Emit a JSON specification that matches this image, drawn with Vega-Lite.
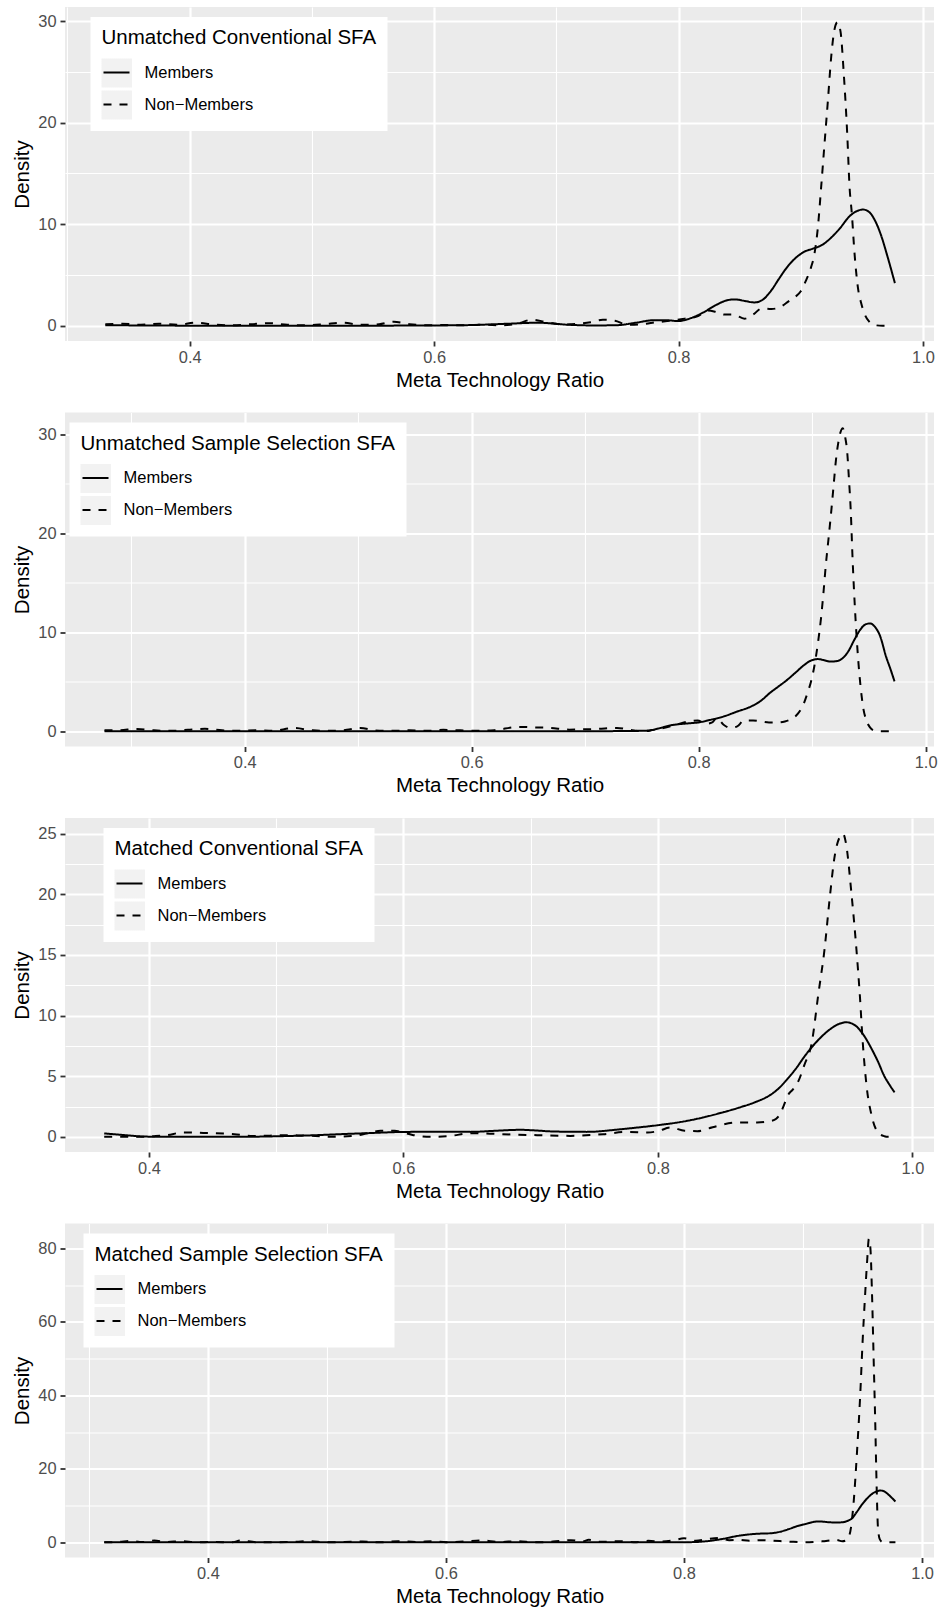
{
  "$schema": "https://vega.github.io/schema/vega-lite/v6.json",
  "background": "white",
  "padding": {"left": 12, "top": 7, "right": 6, "bottom": 5},
  "spacing": 21.5,
  "resolve": {"scale": {"strokeDash": "independent"}, "legend": {"strokeDash": "independent"}},
  "config": {
    "font": "Liberation Sans",
    "view": {"fill": "#EBEBEB", "stroke": null},
    "axis": {
      "grid": true,
      "gridColor": "white",
      "domain": false,
      "tickColor": "#333333",
      "tickSize": 5,
      "tickWidth": 1.8,
      "labelColor": "#4D4D4D",
      "labelFontSize": 16.4,
      "labelFlush": false,
      "labelOverlap": false,
      "titleFontSize": 20.5,
      "titleFontWeight": "normal",
      "titleColor": "black"
    },
    "axisX": {"labelPadding": 3, "titlePadding": 5},
    "axisY": {"labelPadding": 4, "titlePadding": 5},
    "legend": {
      "titleFontSize": 20.5,
      "titleFontWeight": "normal",
      "titleColor": "black",
      "titlePadding": 10,
      "titleLimit": 500,
      "labelFontSize": 16.5,
      "labelColor": "black",
      "labelLimit": 400,
      "labelOffset": 14,
      "symbolType": "stroke",
      "symbolSize": 676,
      "symbolStrokeWidth": 2,
      "symbolStrokeColor": "black",
      "symbolOffset": 1,
      "rowPadding": 3,
      "padding": 11,
      "fillColor": "white"
    }
  },
  "datasets": {
    "unmatched_conventional": [
      {"group": "Members", "ratio": 0.331, "density": 0.06},
      {"group": "Members", "ratio": 0.36, "density": 0.03},
      {"group": "Members", "ratio": 0.40, "density": 0.01},
      {"group": "Members", "ratio": 0.45, "density": 0.0},
      {"group": "Members", "ratio": 0.50, "density": 0.0},
      {"group": "Members", "ratio": 0.55, "density": 0.01},
      {"group": "Members", "ratio": 0.60, "density": 0.03},
      {"group": "Members", "ratio": 0.63, "density": 0.07},
      {"group": "Members", "ratio": 0.66, "density": 0.2},
      {"group": "Members", "ratio": 0.685, "density": 0.3},
      {"group": "Members", "ratio": 0.71, "density": 0.1},
      {"group": "Members", "ratio": 0.73, "density": 0.03},
      {"group": "Members", "ratio": 0.75, "density": 0.06},
      {"group": "Members", "ratio": 0.765, "density": 0.3},
      {"group": "Members", "ratio": 0.78, "density": 0.55},
      {"group": "Members", "ratio": 0.79, "density": 0.55},
      {"group": "Members", "ratio": 0.80, "density": 0.46},
      {"group": "Members", "ratio": 0.81, "density": 0.75},
      {"group": "Members", "ratio": 0.82, "density": 1.3},
      {"group": "Members", "ratio": 0.83, "density": 2.0},
      {"group": "Members", "ratio": 0.838, "density": 2.45},
      {"group": "Members", "ratio": 0.846, "density": 2.6},
      {"group": "Members", "ratio": 0.854, "density": 2.45},
      {"group": "Members", "ratio": 0.862, "density": 2.3},
      {"group": "Members", "ratio": 0.868, "density": 2.5},
      {"group": "Members", "ratio": 0.876, "density": 3.5},
      {"group": "Members", "ratio": 0.882, "density": 4.6},
      {"group": "Members", "ratio": 0.889, "density": 5.8},
      {"group": "Members", "ratio": 0.896, "density": 6.7},
      {"group": "Members", "ratio": 0.903, "density": 7.3},
      {"group": "Members", "ratio": 0.91, "density": 7.6},
      {"group": "Members", "ratio": 0.918, "density": 8.0},
      {"group": "Members", "ratio": 0.925, "density": 8.7},
      {"group": "Members", "ratio": 0.932, "density": 9.6},
      {"group": "Members", "ratio": 0.94, "density": 10.8},
      {"group": "Members", "ratio": 0.946, "density": 11.3},
      {"group": "Members", "ratio": 0.951, "density": 11.45},
      {"group": "Members", "ratio": 0.956, "density": 11.2},
      {"group": "Members", "ratio": 0.961, "density": 10.3},
      {"group": "Members", "ratio": 0.966, "density": 8.8},
      {"group": "Members", "ratio": 0.971, "density": 6.8},
      {"group": "Members", "ratio": 0.977, "density": 4.2},
      {"group": "Non−Members", "ratio": 0.331, "density": 0.15},
      {"group": "Non−Members", "ratio": 0.345, "density": 0.2},
      {"group": "Non−Members", "ratio": 0.36, "density": 0.1},
      {"group": "Non−Members", "ratio": 0.375, "density": 0.2},
      {"group": "Non−Members", "ratio": 0.39, "density": 0.1},
      {"group": "Non−Members", "ratio": 0.405, "density": 0.3},
      {"group": "Non−Members", "ratio": 0.42, "density": 0.12},
      {"group": "Non−Members", "ratio": 0.435, "density": 0.05},
      {"group": "Non−Members", "ratio": 0.45, "density": 0.15},
      {"group": "Non−Members", "ratio": 0.465, "density": 0.25},
      {"group": "Non−Members", "ratio": 0.48, "density": 0.1},
      {"group": "Non−Members", "ratio": 0.495, "density": 0.05},
      {"group": "Non−Members", "ratio": 0.51, "density": 0.15},
      {"group": "Non−Members", "ratio": 0.525, "density": 0.3},
      {"group": "Non−Members", "ratio": 0.54, "density": 0.1},
      {"group": "Non−Members", "ratio": 0.555, "density": 0.15},
      {"group": "Non−Members", "ratio": 0.567, "density": 0.4},
      {"group": "Non−Members", "ratio": 0.58, "density": 0.15},
      {"group": "Non−Members", "ratio": 0.595, "density": 0.05},
      {"group": "Non−Members", "ratio": 0.61, "density": 0.08},
      {"group": "Non−Members", "ratio": 0.625, "density": 0.05},
      {"group": "Non−Members", "ratio": 0.64, "density": 0.1},
      {"group": "Non−Members", "ratio": 0.655, "density": 0.05},
      {"group": "Non−Members", "ratio": 0.668, "density": 0.2},
      {"group": "Non−Members", "ratio": 0.68, "density": 0.6},
      {"group": "Non−Members", "ratio": 0.692, "density": 0.35},
      {"group": "Non−Members", "ratio": 0.705, "density": 0.12},
      {"group": "Non−Members", "ratio": 0.718, "density": 0.2},
      {"group": "Non−Members", "ratio": 0.728, "density": 0.35},
      {"group": "Non−Members", "ratio": 0.738, "density": 0.6},
      {"group": "Non−Members", "ratio": 0.748, "density": 0.5},
      {"group": "Non−Members", "ratio": 0.758, "density": 0.1},
      {"group": "Non−Members", "ratio": 0.77, "density": 0.15},
      {"group": "Non−Members", "ratio": 0.782, "density": 0.35},
      {"group": "Non−Members", "ratio": 0.794, "density": 0.5},
      {"group": "Non−Members", "ratio": 0.805, "density": 0.7},
      {"group": "Non−Members", "ratio": 0.816, "density": 0.95},
      {"group": "Non−Members", "ratio": 0.824, "density": 1.5},
      {"group": "Non−Members", "ratio": 0.831, "density": 1.35},
      {"group": "Non−Members", "ratio": 0.838, "density": 1.1},
      {"group": "Non−Members", "ratio": 0.845, "density": 1.1},
      {"group": "Non−Members", "ratio": 0.854, "density": 0.7},
      {"group": "Non−Members", "ratio": 0.861, "density": 1.1},
      {"group": "Non−Members", "ratio": 0.868, "density": 1.7},
      {"group": "Non−Members", "ratio": 0.876, "density": 1.65},
      {"group": "Non−Members", "ratio": 0.884, "density": 1.9},
      {"group": "Non−Members", "ratio": 0.89, "density": 2.4},
      {"group": "Non−Members", "ratio": 0.895, "density": 2.8},
      {"group": "Non−Members", "ratio": 0.90, "density": 3.4},
      {"group": "Non−Members", "ratio": 0.9044, "density": 4.5},
      {"group": "Non−Members", "ratio": 0.9085, "density": 5.8},
      {"group": "Non−Members", "ratio": 0.9112, "density": 7.1},
      {"group": "Non−Members", "ratio": 0.914, "density": 9.7},
      {"group": "Non−Members", "ratio": 0.9167, "density": 13.7},
      {"group": "Non−Members", "ratio": 0.9194, "density": 17.9},
      {"group": "Non−Members", "ratio": 0.9222, "density": 22.2},
      {"group": "Non−Members", "ratio": 0.9249, "density": 26.5},
      {"group": "Non−Members", "ratio": 0.9276, "density": 29.2},
      {"group": "Non−Members", "ratio": 0.930, "density": 29.9},
      {"group": "Non−Members", "ratio": 0.9325, "density": 29.0},
      {"group": "Non−Members", "ratio": 0.9352, "density": 24.8},
      {"group": "Non−Members", "ratio": 0.938, "density": 18.9},
      {"group": "Non−Members", "ratio": 0.9399, "density": 13.7},
      {"group": "Non−Members", "ratio": 0.9418, "density": 11.0},
      {"group": "Non−Members", "ratio": 0.944, "density": 7.1},
      {"group": "Non−Members", "ratio": 0.9467, "density": 3.8},
      {"group": "Non−Members", "ratio": 0.9495, "density": 2.2},
      {"group": "Non−Members", "ratio": 0.9521, "density": 1.2},
      {"group": "Non−Members", "ratio": 0.956, "density": 0.4},
      {"group": "Non−Members", "ratio": 0.9603, "density": 0.07},
      {"group": "Non−Members", "ratio": 0.967, "density": 0.0},
      {"group": "Non−Members", "ratio": 0.975, "density": 0.0}
    ],
    "unmatched_selection": [
      {"group": "Members", "ratio": 0.2765, "density": 0.0},
      {"group": "Members", "ratio": 0.35, "density": 0.0},
      {"group": "Members", "ratio": 0.45, "density": 0.0},
      {"group": "Members", "ratio": 0.55, "density": 0.0},
      {"group": "Members", "ratio": 0.65, "density": 0.0},
      {"group": "Members", "ratio": 0.72, "density": 0.02},
      {"group": "Members", "ratio": 0.754, "density": 0.07},
      {"group": "Members", "ratio": 0.765, "density": 0.3},
      {"group": "Members", "ratio": 0.775, "density": 0.6},
      {"group": "Members", "ratio": 0.79, "density": 0.8},
      {"group": "Members", "ratio": 0.80, "density": 0.9},
      {"group": "Members", "ratio": 0.81, "density": 1.15},
      {"group": "Members", "ratio": 0.822, "density": 1.5},
      {"group": "Members", "ratio": 0.834, "density": 2.0},
      {"group": "Members", "ratio": 0.846, "density": 2.5},
      {"group": "Members", "ratio": 0.855, "density": 3.1},
      {"group": "Members", "ratio": 0.863, "density": 3.9},
      {"group": "Members", "ratio": 0.87, "density": 4.5},
      {"group": "Members", "ratio": 0.878, "density": 5.2},
      {"group": "Members", "ratio": 0.886, "density": 6.0},
      {"group": "Members", "ratio": 0.893, "density": 6.7},
      {"group": "Members", "ratio": 0.899, "density": 7.15},
      {"group": "Members", "ratio": 0.905, "density": 7.3},
      {"group": "Members", "ratio": 0.91, "density": 7.2},
      {"group": "Members", "ratio": 0.916, "density": 7.05},
      {"group": "Members", "ratio": 0.922, "density": 7.1},
      {"group": "Members", "ratio": 0.927, "density": 7.4},
      {"group": "Members", "ratio": 0.932, "density": 8.1},
      {"group": "Members", "ratio": 0.937, "density": 9.2},
      {"group": "Members", "ratio": 0.942, "density": 10.2},
      {"group": "Members", "ratio": 0.947, "density": 10.8},
      {"group": "Members", "ratio": 0.951, "density": 10.9},
      {"group": "Members", "ratio": 0.955, "density": 10.6},
      {"group": "Members", "ratio": 0.96, "density": 9.6},
      {"group": "Members", "ratio": 0.965, "density": 7.6},
      {"group": "Members", "ratio": 0.969, "density": 6.3},
      {"group": "Members", "ratio": 0.9726, "density": 5.05},
      {"group": "Non−Members", "ratio": 0.2765, "density": 0.1},
      {"group": "Non−Members", "ratio": 0.29, "density": 0.12},
      {"group": "Non−Members", "ratio": 0.305, "density": 0.24},
      {"group": "Non−Members", "ratio": 0.32, "density": 0.1},
      {"group": "Non−Members", "ratio": 0.335, "density": 0.05},
      {"group": "Non−Members", "ratio": 0.35, "density": 0.15},
      {"group": "Non−Members", "ratio": 0.365, "density": 0.25},
      {"group": "Non−Members", "ratio": 0.38, "density": 0.1},
      {"group": "Non−Members", "ratio": 0.395, "density": 0.05},
      {"group": "Non−Members", "ratio": 0.41, "density": 0.12},
      {"group": "Non−Members", "ratio": 0.425, "density": 0.05},
      {"group": "Non−Members", "ratio": 0.443, "density": 0.34},
      {"group": "Non−Members", "ratio": 0.46, "density": 0.1},
      {"group": "Non−Members", "ratio": 0.475, "density": 0.05},
      {"group": "Non−Members", "ratio": 0.49, "density": 0.15},
      {"group": "Non−Members", "ratio": 0.502, "density": 0.34},
      {"group": "Non−Members", "ratio": 0.515, "density": 0.1},
      {"group": "Non−Members", "ratio": 0.53, "density": 0.05},
      {"group": "Non−Members", "ratio": 0.545, "density": 0.1},
      {"group": "Non−Members", "ratio": 0.56, "density": 0.05},
      {"group": "Non−Members", "ratio": 0.575, "density": 0.15},
      {"group": "Non−Members", "ratio": 0.59, "density": 0.1},
      {"group": "Non−Members", "ratio": 0.605, "density": 0.05},
      {"group": "Non−Members", "ratio": 0.62, "density": 0.12},
      {"group": "Non−Members", "ratio": 0.642, "density": 0.45},
      {"group": "Non−Members", "ratio": 0.655, "density": 0.4},
      {"group": "Non−Members", "ratio": 0.669, "density": 0.35},
      {"group": "Non−Members", "ratio": 0.686, "density": 0.17},
      {"group": "Non−Members", "ratio": 0.698, "density": 0.2},
      {"group": "Non−Members", "ratio": 0.71, "density": 0.24},
      {"group": "Non−Members", "ratio": 0.728, "density": 0.35},
      {"group": "Non−Members", "ratio": 0.74, "density": 0.15},
      {"group": "Non−Members", "ratio": 0.751, "density": 0.0},
      {"group": "Non−Members", "ratio": 0.76, "density": 0.15},
      {"group": "Non−Members", "ratio": 0.769, "density": 0.34},
      {"group": "Non−Members", "ratio": 0.778, "density": 0.6},
      {"group": "Non−Members", "ratio": 0.787, "density": 0.9},
      {"group": "Non−Members", "ratio": 0.794, "density": 1.05},
      {"group": "Non−Members", "ratio": 0.799, "density": 1.1},
      {"group": "Non−Members", "ratio": 0.807, "density": 0.77},
      {"group": "Non−Members", "ratio": 0.812, "density": 0.9},
      {"group": "Non−Members", "ratio": 0.816, "density": 1.35},
      {"group": "Non−Members", "ratio": 0.822, "density": 0.67},
      {"group": "Non−Members", "ratio": 0.828, "density": 0.35},
      {"group": "Non−Members", "ratio": 0.834, "density": 0.5},
      {"group": "Non−Members", "ratio": 0.84, "density": 1.1},
      {"group": "Non−Members", "ratio": 0.848, "density": 1.1},
      {"group": "Non−Members", "ratio": 0.855, "density": 1.0},
      {"group": "Non−Members", "ratio": 0.862, "density": 0.9},
      {"group": "Non−Members", "ratio": 0.869, "density": 0.9},
      {"group": "Non−Members", "ratio": 0.876, "density": 1.0},
      {"group": "Non−Members", "ratio": 0.881, "density": 1.2},
      {"group": "Non−Members", "ratio": 0.886, "density": 1.6},
      {"group": "Non−Members", "ratio": 0.89, "density": 2.2},
      {"group": "Non−Members", "ratio": 0.893, "density": 2.9},
      {"group": "Non−Members", "ratio": 0.896, "density": 3.9},
      {"group": "Non−Members", "ratio": 0.899, "density": 5.0},
      {"group": "Non−Members", "ratio": 0.902, "density": 6.6},
      {"group": "Non−Members", "ratio": 0.905, "density": 8.8},
      {"group": "Non−Members", "ratio": 0.908, "density": 11.6},
      {"group": "Non−Members", "ratio": 0.91, "density": 14.0},
      {"group": "Non−Members", "ratio": 0.912, "density": 16.7},
      {"group": "Non−Members", "ratio": 0.9145, "density": 19.5},
      {"group": "Non−Members", "ratio": 0.917, "density": 22.4},
      {"group": "Non−Members", "ratio": 0.919, "density": 24.9},
      {"group": "Non−Members", "ratio": 0.921, "density": 27.4},
      {"group": "Non−Members", "ratio": 0.923, "density": 29.1},
      {"group": "Non−Members", "ratio": 0.925, "density": 30.2},
      {"group": "Non−Members", "ratio": 0.927, "density": 30.6},
      {"group": "Non−Members", "ratio": 0.929, "density": 29.8},
      {"group": "Non−Members", "ratio": 0.931, "density": 28.1},
      {"group": "Non−Members", "ratio": 0.9325, "density": 25.4},
      {"group": "Non−Members", "ratio": 0.934, "density": 22.4},
      {"group": "Non−Members", "ratio": 0.9357, "density": 17.3},
      {"group": "Non−Members", "ratio": 0.9378, "density": 12.3},
      {"group": "Non−Members", "ratio": 0.94, "density": 8.2},
      {"group": "Non−Members", "ratio": 0.943, "density": 4.2},
      {"group": "Non−Members", "ratio": 0.945, "density": 2.4},
      {"group": "Non−Members", "ratio": 0.9475, "density": 1.2},
      {"group": "Non−Members", "ratio": 0.951, "density": 0.4},
      {"group": "Non−Members", "ratio": 0.955, "density": 0.07},
      {"group": "Non−Members", "ratio": 0.962, "density": 0.0},
      {"group": "Non−Members", "ratio": 0.9726, "density": 0.0}
    ],
    "matched_conventional": [
      {"group": "Members", "ratio": 0.3648, "density": 0.28},
      {"group": "Members", "ratio": 0.38, "density": 0.15},
      {"group": "Members", "ratio": 0.398, "density": 0.02},
      {"group": "Members", "ratio": 0.42, "density": 0.0},
      {"group": "Members", "ratio": 0.44, "density": 0.0},
      {"group": "Members", "ratio": 0.47, "density": 0.0},
      {"group": "Members", "ratio": 0.493, "density": 0.03},
      {"group": "Members", "ratio": 0.51, "density": 0.07},
      {"group": "Members", "ratio": 0.532, "density": 0.14},
      {"group": "Members", "ratio": 0.55, "density": 0.22},
      {"group": "Members", "ratio": 0.571, "density": 0.3},
      {"group": "Members", "ratio": 0.598, "density": 0.4},
      {"group": "Members", "ratio": 0.624, "density": 0.42},
      {"group": "Members", "ratio": 0.653, "density": 0.41},
      {"group": "Members", "ratio": 0.672, "density": 0.5},
      {"group": "Members", "ratio": 0.692, "density": 0.58},
      {"group": "Members", "ratio": 0.705, "density": 0.52},
      {"group": "Members", "ratio": 0.718, "density": 0.44},
      {"group": "Members", "ratio": 0.744, "density": 0.41},
      {"group": "Members", "ratio": 0.771, "density": 0.63},
      {"group": "Members", "ratio": 0.785, "density": 0.78},
      {"group": "Members", "ratio": 0.80, "density": 0.96},
      {"group": "Members", "ratio": 0.823, "density": 1.32},
      {"group": "Members", "ratio": 0.849, "density": 1.96},
      {"group": "Members", "ratio": 0.865, "density": 2.45},
      {"group": "Members", "ratio": 0.876, "density": 2.84},
      {"group": "Members", "ratio": 0.889, "density": 3.5},
      {"group": "Members", "ratio": 0.896, "density": 4.1},
      {"group": "Members", "ratio": 0.902, "density": 4.8},
      {"group": "Members", "ratio": 0.909, "density": 5.7},
      {"group": "Members", "ratio": 0.915, "density": 6.6},
      {"group": "Members", "ratio": 0.921, "density": 7.4},
      {"group": "Members", "ratio": 0.928, "density": 8.2},
      {"group": "Members", "ratio": 0.935, "density": 8.85},
      {"group": "Members", "ratio": 0.942, "density": 9.3},
      {"group": "Members", "ratio": 0.948, "density": 9.45},
      {"group": "Members", "ratio": 0.955, "density": 9.2},
      {"group": "Members", "ratio": 0.961, "density": 8.5},
      {"group": "Members", "ratio": 0.968, "density": 7.25},
      {"group": "Members", "ratio": 0.973, "density": 6.2},
      {"group": "Members", "ratio": 0.978, "density": 5.0},
      {"group": "Members", "ratio": 0.982, "density": 4.3},
      {"group": "Members", "ratio": 0.986, "density": 3.67},
      {"group": "Non−Members", "ratio": 0.3648, "density": 0.0},
      {"group": "Non−Members", "ratio": 0.38, "density": 0.0},
      {"group": "Non−Members", "ratio": 0.393, "density": 0.0},
      {"group": "Non−Members", "ratio": 0.405, "density": 0.06},
      {"group": "Non−Members", "ratio": 0.414, "density": 0.14},
      {"group": "Non−Members", "ratio": 0.427, "density": 0.36},
      {"group": "Non−Members", "ratio": 0.44, "density": 0.33},
      {"group": "Non−Members", "ratio": 0.451, "density": 0.3},
      {"group": "Non−Members", "ratio": 0.467, "density": 0.22},
      {"group": "Non−Members", "ratio": 0.482, "density": 0.06},
      {"group": "Non−Members", "ratio": 0.495, "density": 0.1},
      {"group": "Non−Members", "ratio": 0.506, "density": 0.14},
      {"group": "Non−Members", "ratio": 0.517, "density": 0.12},
      {"group": "Non−Members", "ratio": 0.527, "density": 0.1},
      {"group": "Non−Members", "ratio": 0.545, "density": 0.0},
      {"group": "Non−Members", "ratio": 0.561, "density": 0.08},
      {"group": "Non−Members", "ratio": 0.572, "density": 0.3},
      {"group": "Non−Members", "ratio": 0.582, "density": 0.5},
      {"group": "Non−Members", "ratio": 0.593, "density": 0.5},
      {"group": "Non−Members", "ratio": 0.602, "density": 0.3},
      {"group": "Non−Members", "ratio": 0.608, "density": 0.14},
      {"group": "Non−Members", "ratio": 0.622, "density": 0.0},
      {"group": "Non−Members", "ratio": 0.637, "density": 0.08},
      {"group": "Non−Members", "ratio": 0.653, "density": 0.3},
      {"group": "Non−Members", "ratio": 0.665, "density": 0.28},
      {"group": "Non−Members", "ratio": 0.678, "density": 0.22},
      {"group": "Non−Members", "ratio": 0.705, "density": 0.14},
      {"group": "Non−Members", "ratio": 0.731, "density": 0.08},
      {"group": "Non−Members", "ratio": 0.757, "density": 0.22},
      {"group": "Non−Members", "ratio": 0.776, "density": 0.41},
      {"group": "Non−Members", "ratio": 0.792, "density": 0.36},
      {"group": "Non−Members", "ratio": 0.80, "density": 0.47},
      {"group": "Non−Members", "ratio": 0.81, "density": 0.77},
      {"group": "Non−Members", "ratio": 0.821, "density": 0.5},
      {"group": "Non−Members", "ratio": 0.831, "density": 0.47},
      {"group": "Non−Members", "ratio": 0.84, "density": 0.7},
      {"group": "Non−Members", "ratio": 0.847, "density": 0.9},
      {"group": "Non−Members", "ratio": 0.863, "density": 1.19},
      {"group": "Non−Members", "ratio": 0.878, "density": 1.19},
      {"group": "Non−Members", "ratio": 0.889, "density": 1.32},
      {"group": "Non−Members", "ratio": 0.893, "density": 1.5},
      {"group": "Non−Members", "ratio": 0.896, "density": 1.87},
      {"group": "Non−Members", "ratio": 0.899, "density": 2.6},
      {"group": "Non−Members", "ratio": 0.902, "density": 3.4},
      {"group": "Non−Members", "ratio": 0.906, "density": 3.9},
      {"group": "Non−Members", "ratio": 0.91, "density": 4.5},
      {"group": "Non−Members", "ratio": 0.915, "density": 5.9},
      {"group": "Non−Members", "ratio": 0.921, "density": 7.8},
      {"group": "Non−Members", "ratio": 0.926, "density": 11.7},
      {"group": "Non−Members", "ratio": 0.931, "density": 15.5},
      {"group": "Non−Members", "ratio": 0.935, "density": 19.65},
      {"group": "Non−Members", "ratio": 0.939, "density": 23.2},
      {"group": "Non−Members", "ratio": 0.943, "density": 24.75},
      {"group": "Non−Members", "ratio": 0.9455, "density": 25.0},
      {"group": "Non−Members", "ratio": 0.948, "density": 24.1},
      {"group": "Non−Members", "ratio": 0.952, "density": 20.2},
      {"group": "Non−Members", "ratio": 0.956, "density": 15.5},
      {"group": "Non−Members", "ratio": 0.9587, "density": 11.7},
      {"group": "Non−Members", "ratio": 0.961, "density": 7.8},
      {"group": "Non−Members", "ratio": 0.964, "density": 4.2},
      {"group": "Non−Members", "ratio": 0.968, "density": 1.74},
      {"group": "Non−Members", "ratio": 0.973, "density": 0.36},
      {"group": "Non−Members", "ratio": 0.978, "density": 0.05},
      {"group": "Non−Members", "ratio": 0.981, "density": 0.0},
      {"group": "Non−Members", "ratio": 0.986, "density": 0.0}
    ],
    "matched_selection": [
      {"group": "Members", "ratio": 0.313, "density": 0.0},
      {"group": "Members", "ratio": 0.4, "density": 0.0},
      {"group": "Members", "ratio": 0.5, "density": 0.0},
      {"group": "Members", "ratio": 0.6, "density": 0.0},
      {"group": "Members", "ratio": 0.7, "density": 0.0},
      {"group": "Members", "ratio": 0.78, "density": 0.0},
      {"group": "Members", "ratio": 0.805, "density": 0.05},
      {"group": "Members", "ratio": 0.818, "density": 0.27},
      {"group": "Members", "ratio": 0.825, "density": 0.55},
      {"group": "Members", "ratio": 0.832, "density": 0.9},
      {"group": "Members", "ratio": 0.846, "density": 1.8},
      {"group": "Members", "ratio": 0.86, "density": 2.3},
      {"group": "Members", "ratio": 0.874, "density": 2.5},
      {"group": "Members", "ratio": 0.881, "density": 2.9},
      {"group": "Members", "ratio": 0.888, "density": 3.6},
      {"group": "Members", "ratio": 0.895, "density": 4.4},
      {"group": "Members", "ratio": 0.902, "density": 5.0},
      {"group": "Members", "ratio": 0.908, "density": 5.5},
      {"group": "Members", "ratio": 0.913, "density": 5.7},
      {"group": "Members", "ratio": 0.921, "density": 5.5},
      {"group": "Members", "ratio": 0.927, "density": 5.4},
      {"group": "Members", "ratio": 0.933, "density": 5.45},
      {"group": "Members", "ratio": 0.937, "density": 5.8},
      {"group": "Members", "ratio": 0.941, "density": 6.5},
      {"group": "Members", "ratio": 0.945, "density": 8.2},
      {"group": "Members", "ratio": 0.95, "density": 10.5},
      {"group": "Members", "ratio": 0.954, "density": 12.0},
      {"group": "Members", "ratio": 0.958, "density": 13.2},
      {"group": "Members", "ratio": 0.962, "density": 13.9},
      {"group": "Members", "ratio": 0.965, "density": 14.1},
      {"group": "Members", "ratio": 0.968, "density": 13.9},
      {"group": "Members", "ratio": 0.971, "density": 13.2},
      {"group": "Members", "ratio": 0.974, "density": 12.3},
      {"group": "Members", "ratio": 0.9776, "density": 11.1},
      {"group": "Non−Members", "ratio": 0.313, "density": 0.0},
      {"group": "Non−Members", "ratio": 0.325, "density": 0.1},
      {"group": "Non−Members", "ratio": 0.335, "density": 0.4},
      {"group": "Non−Members", "ratio": 0.345, "density": 0.1},
      {"group": "Non−Members", "ratio": 0.355, "density": 0.5},
      {"group": "Non−Members", "ratio": 0.365, "density": 0.1},
      {"group": "Non−Members", "ratio": 0.378, "density": 0.3},
      {"group": "Non−Members", "ratio": 0.39, "density": 0.0},
      {"group": "Non−Members", "ratio": 0.405, "density": 0.1},
      {"group": "Non−Members", "ratio": 0.42, "density": 0.0},
      {"group": "Non−Members", "ratio": 0.428, "density": 0.5},
      {"group": "Non−Members", "ratio": 0.44, "density": 0.05},
      {"group": "Non−Members", "ratio": 0.455, "density": 0.0},
      {"group": "Non−Members", "ratio": 0.47, "density": 0.1},
      {"group": "Non−Members", "ratio": 0.485, "density": 0.3},
      {"group": "Non−Members", "ratio": 0.5, "density": 0.0},
      {"group": "Non−Members", "ratio": 0.515, "density": 0.1},
      {"group": "Non−Members", "ratio": 0.53, "density": 0.2},
      {"group": "Non−Members", "ratio": 0.545, "density": 0.0},
      {"group": "Non−Members", "ratio": 0.56, "density": 0.3},
      {"group": "Non−Members", "ratio": 0.575, "density": 0.1},
      {"group": "Non−Members", "ratio": 0.59, "density": 0.3},
      {"group": "Non−Members", "ratio": 0.6, "density": 0.05},
      {"group": "Non−Members", "ratio": 0.615, "density": 0.2},
      {"group": "Non−Members", "ratio": 0.63, "density": 0.5},
      {"group": "Non−Members", "ratio": 0.645, "density": 0.1},
      {"group": "Non−Members", "ratio": 0.66, "density": 0.3},
      {"group": "Non−Members", "ratio": 0.675, "density": 0.0},
      {"group": "Non−Members", "ratio": 0.69, "density": 0.2},
      {"group": "Non−Members", "ratio": 0.705, "density": 0.6},
      {"group": "Non−Members", "ratio": 0.715, "density": 0.2},
      {"group": "Non−Members", "ratio": 0.72, "density": 0.7},
      {"group": "Non−Members", "ratio": 0.73, "density": 0.15},
      {"group": "Non−Members", "ratio": 0.745, "density": 0.3},
      {"group": "Non−Members", "ratio": 0.76, "density": 0.05},
      {"group": "Non−Members", "ratio": 0.77, "density": 0.4},
      {"group": "Non−Members", "ratio": 0.78, "density": 0.2},
      {"group": "Non−Members", "ratio": 0.792, "density": 0.6},
      {"group": "Non−Members", "ratio": 0.80, "density": 1.1},
      {"group": "Non−Members", "ratio": 0.81, "density": 0.4},
      {"group": "Non−Members", "ratio": 0.82, "density": 0.9},
      {"group": "Non−Members", "ratio": 0.83, "density": 1.2},
      {"group": "Non−Members", "ratio": 0.838, "density": 0.6},
      {"group": "Non−Members", "ratio": 0.846, "density": 0.7},
      {"group": "Non−Members", "ratio": 0.855, "density": 0.45},
      {"group": "Non−Members", "ratio": 0.864, "density": 0.6},
      {"group": "Non−Members", "ratio": 0.874, "density": 0.45},
      {"group": "Non−Members", "ratio": 0.888, "density": 0.2},
      {"group": "Non−Members", "ratio": 0.902, "density": 0.0},
      {"group": "Non−Members", "ratio": 0.916, "density": 0.27},
      {"group": "Non−Members", "ratio": 0.928, "density": 0.64},
      {"group": "Non−Members", "ratio": 0.933, "density": 0.3},
      {"group": "Non−Members", "ratio": 0.936, "density": 0.5},
      {"group": "Non−Members", "ratio": 0.939, "density": 2.0},
      {"group": "Non−Members", "ratio": 0.9425, "density": 10.9},
      {"group": "Non−Members", "ratio": 0.9453, "density": 24.5},
      {"group": "Non−Members", "ratio": 0.948, "density": 40.0},
      {"group": "Non−Members", "ratio": 0.95, "density": 54.5},
      {"group": "Non−Members", "ratio": 0.9518, "density": 65.5},
      {"group": "Non−Members", "ratio": 0.9538, "density": 76.4},
      {"group": "Non−Members", "ratio": 0.9553, "density": 82.6},
      {"group": "Non−Members", "ratio": 0.9566, "density": 80.0},
      {"group": "Non−Members", "ratio": 0.9579, "density": 68.0},
      {"group": "Non−Members", "ratio": 0.9593, "density": 50.0},
      {"group": "Non−Members", "ratio": 0.9607, "density": 31.8},
      {"group": "Non−Members", "ratio": 0.9616, "density": 18.2},
      {"group": "Non−Members", "ratio": 0.963, "density": 3.6},
      {"group": "Non−Members", "ratio": 0.9645, "density": 0.8},
      {"group": "Non−Members", "ratio": 0.967, "density": 0.05},
      {"group": "Non−Members", "ratio": 0.972, "density": 0.0},
      {"group": "Non−Members", "ratio": 0.9776, "density": 0.0}
    ]
  },
  "vconcat": [
    {
      "data": {"name": "unmatched_conventional"},
      "width": 869,
      "height": 334,
      "mark": {"type": "line", "interpolate": "monotone", "color": "black", "strokeWidth": 2, "clip": true},
      "encoding": {
        "x": {
          "field": "ratio", "type": "quantitative", "title": "Meta Technology Ratio",
          "scale": {"domain": [0.298, 1.009], "nice": false, "zero": false},
          "axis": {
            "values": [0.3, 0.4, 0.5, 0.6, 0.7, 0.8, 0.9, 1.0],
            "labelExpr": "round(datum.value * 10) % 2 === 0 ? format(datum.value, '.1f') : ''",
            "gridWidth": {"condition": {"test": "round(datum.value * 10) % 2 === 0", "value": 2.2}, "value": 1.1},
            "tickOpacity": {"condition": {"test": "round(datum.value * 10) % 2 === 0", "value": 1}, "value": 0}
          }
        },
        "y": {
          "field": "density", "type": "quantitative", "title": "Density",
          "scale": {"domain": [-1.5, 31.4], "nice": false, "zero": false},
          "axis": {
            "values": [0, 5, 10, 15, 20, 25, 30],
            "labelExpr": "datum.value % 10 === 0 ? format(datum.value, 'd') : ''",
            "gridWidth": {"condition": {"test": "datum.value % 10 === 0", "value": 2.2}, "value": 1.1},
            "tickOpacity": {"condition": {"test": "datum.value % 10 === 0", "value": 1}, "value": 0}
          }
        },
        "strokeDash": {
          "field": "group", "type": "nominal",
          "scale": {"domain": ["Members", "Non−Members"], "range": [[1, 0], [8, 8]]},
          "legend": {
            "title": "Unmatched Conventional SFA", "orient": "none", "legendX": 25.5, "legendY": 10,
            "encoding": {"entries": {"noBound": {"value": false}, "fill": {"value": {"gradient": "linear", "x1": 0, "y1": 0, "x2": 1, "y2": 0, "stops": [{"offset": 0, "color": "#F2F2F2"}, {"offset": 0.2, "color": "#F2F2F2"}, {"offset": 0.2, "color": "rgba(255,255,255,0)"}, {"offset": 1, "color": "rgba(255,255,255,0)"}]}}, "width": {"value": 30}, "height": {"value": 29}}}
          }
        }
      }
    },
    {
      "data": {"name": "unmatched_selection"},
      "width": 869,
      "height": 334,
      "mark": {"type": "line", "interpolate": "monotone", "color": "black", "strokeWidth": 2, "clip": true},
      "encoding": {
        "x": {
          "field": "ratio", "type": "quantitative", "title": "Meta Technology Ratio",
          "scale": {"domain": [0.2417, 1.0074], "nice": false, "zero": false},
          "axis": {
            "values": [0.3, 0.4, 0.5, 0.6, 0.7, 0.8, 0.9, 1.0],
            "labelExpr": "round(datum.value * 10) % 2 === 0 ? format(datum.value, '.1f') : ''",
            "gridWidth": {"condition": {"test": "round(datum.value * 10) % 2 === 0", "value": 2.2}, "value": 1.1},
            "tickOpacity": {"condition": {"test": "round(datum.value * 10) % 2 === 0", "value": 1}, "value": 0}
          }
        },
        "y": {
          "field": "density", "type": "quantitative", "title": "Density",
          "scale": {"domain": [-1.53, 32.2], "nice": false, "zero": false},
          "axis": {
            "values": [0, 5, 10, 15, 20, 25, 30],
            "labelExpr": "datum.value % 10 === 0 ? format(datum.value, 'd') : ''",
            "gridWidth": {"condition": {"test": "datum.value % 10 === 0", "value": 2.2}, "value": 1.1},
            "tickOpacity": {"condition": {"test": "datum.value % 10 === 0", "value": 1}, "value": 0}
          }
        },
        "strokeDash": {
          "field": "group", "type": "nominal",
          "scale": {"domain": ["Members", "Non−Members"], "range": [[1, 0], [8, 8]]},
          "legend": {
            "title": "Unmatched Sample Selection SFA", "orient": "none", "legendX": 4.5, "legendY": 10,
            "encoding": {"entries": {"noBound": {"value": false}, "fill": {"value": {"gradient": "linear", "x1": 0, "y1": 0, "x2": 1, "y2": 0, "stops": [{"offset": 0, "color": "#F2F2F2"}, {"offset": 0.2, "color": "#F2F2F2"}, {"offset": 0.2, "color": "rgba(255,255,255,0)"}, {"offset": 1, "color": "rgba(255,255,255,0)"}]}}, "width": {"value": 30}, "height": {"value": 29}}}
          }
        }
      }
    },
    {
      "data": {"name": "matched_conventional"},
      "width": 869,
      "height": 334,
      "mark": {"type": "line", "interpolate": "monotone", "color": "black", "strokeWidth": 2, "clip": true},
      "encoding": {
        "x": {
          "field": "ratio", "type": "quantitative", "title": "Meta Technology Ratio",
          "scale": {"domain": [0.334, 1.017], "nice": false, "zero": false},
          "axis": {
            "values": [0.4, 0.5, 0.6, 0.7, 0.8, 0.9, 1.0],
            "labelExpr": "round(datum.value * 10) % 2 === 0 ? format(datum.value, '.1f') : ''",
            "gridWidth": {"condition": {"test": "round(datum.value * 10) % 2 === 0", "value": 2.2}, "value": 1.1},
            "tickOpacity": {"condition": {"test": "round(datum.value * 10) % 2 === 0", "value": 1}, "value": 0}
          }
        },
        "y": {
          "field": "density", "type": "quantitative", "title": "Density",
          "scale": {"domain": [-1.25, 26.3], "nice": false, "zero": false},
          "axis": {
            "values": [0, 2.5, 5, 7.5, 10, 12.5, 15, 17.5, 20, 22.5, 25],
            "labelExpr": "datum.value % 5 === 0 ? format(datum.value, 'd') : ''",
            "gridWidth": {"condition": {"test": "datum.value % 5 === 0", "value": 2.2}, "value": 1.1},
            "tickOpacity": {"condition": {"test": "datum.value % 5 === 0", "value": 1}, "value": 0}
          }
        },
        "strokeDash": {
          "field": "group", "type": "nominal",
          "scale": {"domain": ["Members", "Non−Members"], "range": [[1, 0], [8, 8]]},
          "legend": {
            "title": "Matched Conventional SFA", "orient": "none", "legendX": 38.5, "legendY": 10,
            "encoding": {"entries": {"noBound": {"value": false}, "fill": {"value": {"gradient": "linear", "x1": 0, "y1": 0, "x2": 1, "y2": 0, "stops": [{"offset": 0, "color": "#F2F2F2"}, {"offset": 0.2, "color": "#F2F2F2"}, {"offset": 0.2, "color": "rgba(255,255,255,0)"}, {"offset": 1, "color": "rgba(255,255,255,0)"}]}}, "width": {"value": 30}, "height": {"value": 29}}}
          }
        }
      }
    },
    {
      "data": {"name": "matched_selection"},
      "width": 869,
      "height": 334,
      "mark": {"type": "line", "interpolate": "monotone", "color": "black", "strokeWidth": 2, "clip": true},
      "encoding": {
        "x": {
          "field": "ratio", "type": "quantitative", "title": "Meta Technology Ratio",
          "scale": {"domain": [0.28, 1.01], "nice": false, "zero": false},
          "axis": {
            "values": [0.3, 0.4, 0.5, 0.6, 0.7, 0.8, 0.9, 1.0],
            "labelExpr": "round(datum.value * 10) % 2 === 0 ? format(datum.value, '.1f') : ''",
            "gridWidth": {"condition": {"test": "round(datum.value * 10) % 2 === 0", "value": 2.2}, "value": 1.1},
            "tickOpacity": {"condition": {"test": "round(datum.value * 10) % 2 === 0", "value": 1}, "value": 0}
          }
        },
        "y": {
          "field": "density", "type": "quantitative", "title": "Density",
          "scale": {"domain": [-4.13, 86.8], "nice": false, "zero": false},
          "axis": {
            "values": [0, 10, 20, 30, 40, 50, 60, 70, 80],
            "labelExpr": "datum.value % 20 === 0 ? format(datum.value, 'd') : ''",
            "gridWidth": {"condition": {"test": "datum.value % 20 === 0", "value": 2.2}, "value": 1.1},
            "tickOpacity": {"condition": {"test": "datum.value % 20 === 0", "value": 1}, "value": 0}
          }
        },
        "strokeDash": {
          "field": "group", "type": "nominal",
          "scale": {"domain": ["Members", "Non−Members"], "range": [[1, 0], [8, 8]]},
          "legend": {
            "title": "Matched Sample Selection SFA", "orient": "none", "legendX": 18.5, "legendY": 10,
            "encoding": {"entries": {"noBound": {"value": false}, "fill": {"value": {"gradient": "linear", "x1": 0, "y1": 0, "x2": 1, "y2": 0, "stops": [{"offset": 0, "color": "#F2F2F2"}, {"offset": 0.2, "color": "#F2F2F2"}, {"offset": 0.2, "color": "rgba(255,255,255,0)"}, {"offset": 1, "color": "rgba(255,255,255,0)"}]}}, "width": {"value": 30}, "height": {"value": 29}}}
          }
        }
      }
    }
  ]
}
